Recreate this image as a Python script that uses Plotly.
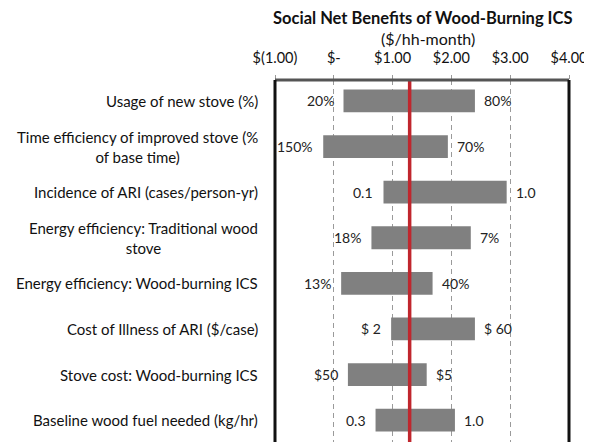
import plotly.graph_objects as go

categories = [
    "Usage of new stove (%)",
    "Time efficiency of improved stove (%<br>of base time)",
    "Incidence of ARI (cases/person-yr)",
    "Energy efficiency: Traditional wood<br>stove",
    "Energy efficiency: Wood-burning ICS",
    "Cost of Illness of ARI ($/case)",
    "Stove cost: Wood-burning ICS",
    "Baseline wood fuel needed (kg/hr)",
]
low_values = [0.165, -0.18, 0.845, 0.64, 0.125, 0.975, 0.24, 0.71]
high_values = [2.40, 1.94, 2.94, 2.33, 1.68, 2.40, 1.58, 2.06]
low_labels = ["20%", "150%", "0.1", "18%", "13%", "$ 2", "$50", "0.3"]
high_labels = ["80%", "70%", "1.0", "7%", "40%", "$ 60", "$5", "1.0"]
base_value = 1.29
tick_vals = [-1, 0, 1, 2, 3, 4]
tick_text = ["$(1.00)", "$-", "$1.00", "$2.00", "$3.00", "$4.00"]

FONT = "Lato"
ypos = list(range(len(categories)))

fig = go.Figure()
fig.add_trace(go.Bar(
    y=ypos,
    x=[h - l for h, l in zip(high_values, low_values)],
    base=low_values,
    orientation="h",
    width=0.5,
    marker=dict(color="#808080", line=dict(width=0)),
    showlegend=False,
    hoverinfo="skip",
))

annotations = []
for i, cat in enumerate(categories):
    annotations.append(dict(x=0, y=i, xref="paper", yref="y", text=cat, showarrow=False,
                            xanchor="right", xshift=-15, align="center",
                            font=dict(family=FONT, size=15, color="#111")))
for i, (lo, hi, ll, hl) in enumerate(zip(low_values, high_values, low_labels, high_labels)):
    annotations.append(dict(x=lo, y=i, xref="x", yref="y", text=ll, showarrow=False,
                            xanchor="right", xshift=-8, font=dict(family=FONT, size=14, color="#222")))
    annotations.append(dict(x=hi, y=i, xref="x", yref="y", text=hl, showarrow=False,
                            xanchor="left", xshift=7, font=dict(family=FONT, size=14, color="#222")))

annotations.append(dict(x=0.5, y=1, xref="paper", yref="paper", yshift=62, yanchor="middle",
                        text="<b>Social Net Benefits of Wood-Burning ICS</b>", showarrow=False,
                        font=dict(family=FONT, size=16.5, color="#111")))
annotations.append(dict(x=0.52, y=1, xref="paper", yref="paper", yshift=42, yanchor="middle",
                        text="($/hh-month)", showarrow=False,
                        font=dict(family=FONT, size=16, color="#111")))

shapes = [
    dict(type="line", xref="x", yref="paper", x0=base_value, x1=base_value, y0=0, y1=1,
         line=dict(color="#c0262d", width=3.5), layer="above"),
    dict(type="line", xref="paper", yref="paper", x0=0, x1=1, y0=1, y1=1,
         line=dict(color="#555555", width=3)),
    dict(type="line", xref="paper", yref="paper", x0=0, x1=0, y0=0, y1=1,
         line=dict(color="#111111", width=3)),
    dict(type="line", xref="paper", yref="paper", x0=1, x1=1, y0=0, y1=1,
         line=dict(color="#111111", width=3)),
]

fig.update_layout(
    width=584, height=434,
    margin=dict(l=267, r=23, t=72, b=0),
    paper_bgcolor="white", plot_bgcolor="white",
    bargap=0.5,
    annotations=annotations,
    shapes=shapes,
    font=dict(family=FONT, color="#111"),
    xaxis=dict(
        side="top", range=[-1, 4], tickvals=tick_vals, ticktext=tick_text,
        showgrid=True, gridcolor="#9a9a9a", griddash="5px,4px", gridwidth=1,
        ticks="outside", ticklen=4, tickcolor="#999", ticklabelstandoff=6,
        tickfont=dict(family=FONT, size=14.5, color="#111"),
        zeroline=False, showline=False, fixedrange=True,
    ),
    yaxis=dict(
        range=[7.48, -0.46], tickvals=ypos, showticklabels=False,
        showgrid=False, zeroline=False, showline=False, ticks="",
    ),
)

fig.write_html("out.html")
